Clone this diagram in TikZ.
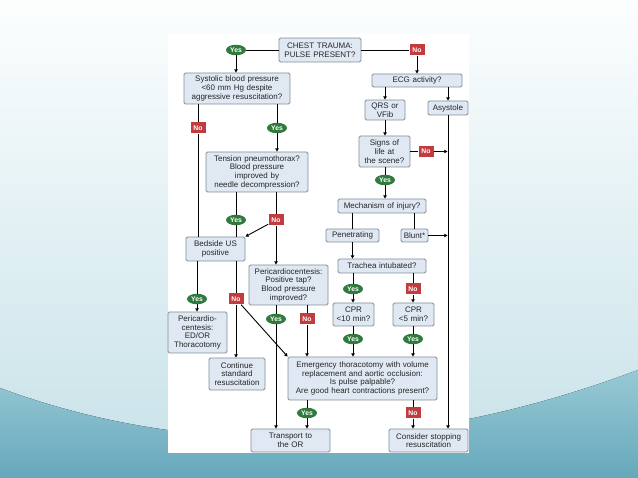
\documentclass[tikz,border=0pt]{standalone}
\usepackage{fontspec}
\setmainfont{Liberation Sans}
\usetikzlibrary{arrows.meta,shapes.geometric}
\definecolor{boxfill}{HTML}{DFE8F3}
\definecolor{boxline}{HTML}{848E97}
\definecolor{yesgreen}{HTML}{2F7A3C}
\definecolor{nored}{HTML}{C23B3E}
\definecolor{txt}{HTML}{262626}
\definecolor{bgtop}{HTML}{FCFEFE}
\definecolor{bgbot}{HTML}{C6E1E8}
\definecolor{wavetop}{HTML}{98C9D5}
\definecolor{wavebot}{HTML}{66A8BB}
\tikzset{
  box/.style={draw=boxline, fill=boxfill, rounded corners=1.5pt, line width=0.85pt,
    align=center, inner sep=0pt, text=txt,
    font=\fontsize{8}{8.7}\selectfont},
  yeslab/.style={ellipse, fill=yesgreen, text=white, inner sep=0pt,
    minimum width=20pt, minimum height=10.5pt, font=\fontsize{6.8}{7}\selectfont\bfseries},
  nolab/.style={rectangle, fill=nored, text=white, inner sep=0pt,
    minimum width=15pt, minimum height=11pt, font=\fontsize{6.8}{7}\selectfont\bfseries},
  conn/.style={line width=0.9pt, black},
  arr/.style={conn, -{Triangle[length=3.2pt,width=3.4pt]}}
}
\newcommand{\bx}[5]{\node[box, minimum width=#3pt, minimum height=#4pt, text width=#3pt] (#1) at (#2) {#5};}
\begin{document}
\begin{tikzpicture}[x=1pt,y=-1pt]
\useasboundingbox (0,0) rectangle (638,478);
% background
\fill[top color=bgtop, bottom color=bgbot] (0,0) rectangle (638,478);
\fill[top color=wavetop, bottom color=wavebot]
  (0,388) .. controls (200,462) and (420,452) .. (638,370) -- (638,478) -- (0,478) -- cycle;
% panel
\fill[white] (168,34) rectangle (469,453);

% boxes
\bx{chest}{320,50}{82}{24}{CHEST TRAUMA:\\PULSE PRESENT?}
\bx{sys}{237,88.5}{106}{31}{Systolic blood pressure\\<60 mm Hg despite\\aggressive resuscitation?}
\bx{ecg}{417,80.5}{90}{13}{ECG activity?}
\bx{qrs}{385,110}{40}{20}{QRS or\\VFib}
\bx{asys}{448,108}{40}{14}{Asystole}
\bx{tension}{257,172}{102}{40}{Tension pneumothorax?\\Blood pressure\\improved by\\needle decompression?}
\bx{signs}{384.5,151.5}{51}{31}{Signs of\\life at\\the scene?}
\bx{mech}{382,206}{88}{14}{Mechanism of injury?}
\bx{pen}{352.5,235.5}{53}{13}{Penetrating}
\bx{blunt}{414.5,235.5}{27}{13}{Blunt*}
\bx{bedside}{215.5,249}{59}{24}{Bedside US\\positive}
\bx{perictap}{288.5,285}{79}{40}{Pericardiocentesis:\\Positive tap?\\Blood pressure\\improved?}
\bx{trachea}{382,266}{88}{14}{Trachea intubated?}
\bx{cprten}{353.5,314.5}{41}{23}{CPR\\<10 min?}
\bx{cprfive}{413.5,314.5}{41}{23}{CPR\\<5 min?}
\bx{peritwo}{197.5,332.5}{59}{41}{Pericardio-\\centesis:\\ED/OR\\Thoracotomy}
\bx{cont}{237,374}{56}{32}{Continue\\standard\\resuscitation}
\bx{emerg}{362.5,378.5}{149}{43}{Emergency thoracotomy with volume\\replacement and aortic occlusion:\\Is pulse palpable?\\Are good heart contractions present?}
\bx{transport}{290.5,440.5}{79}{23}{Transport to\\the OR}
\bx{consider}{428.5,440.5}{79}{23}{Consider stopping\\resuscitation}

% labels
\node[yeslab] (yone) at (236,50) {Yes};
\node[nolab] (none) at (417,50) {No};
\node[nolab] (ntwo) at (198,128) {No};
\node[yeslab] (ytwo) at (277,128) {Yes};
\node[yeslab] (ythree) at (236,220) {Yes};
\node[nolab] (nthree) at (276,220) {No};
\node[nolab] (nsigns) at (426,151.5) {No};
\node[yeslab] (ysigns) at (385,180) {Yes};
\node[yeslab] (ybed) at (197,299) {Yes};
\node[nolab] (nbed) at (236,299) {No};
\node[yeslab] (ypt) at (276,319) {Yes};
\node[nolab] (npt) at (307,319) {No};
\node[yeslab] (ytr) at (353,289) {Yes};
\node[nolab] (ntr) at (413,289) {No};
\node[yeslab] (ycprone) at (353,339) {Yes};
\node[yeslab] (ycprtwo) at (413,339) {Yes};
\node[yeslab] (yem) at (307,413) {Yes};
\node[nolab] (nem) at (413,413) {No};

\coordinate (vsigns) at (447.5,151.5);
\coordinate (vblunt) at (447.5,235.5);

% connectors
\draw[conn] (chest.west) -- (yone);
\draw[arr] (yone) -- (yone |- sys.north);
\draw[conn] (chest.east) -- (none);
\draw[arr] (none) -- (none |- ecg.north);
\draw[arr] (ecg.south -| qrs) -- (qrs.north);
\draw[arr] (ecg.south -| asys) -- (asys.north);
\draw[arr] (qrs.south) -- (signs.north -| qrs);
\draw[conn] (signs.east) -- (nsigns);
\draw[arr] (nsigns) -- (vsigns);
\draw[conn] (signs.south -| ysigns) -- (ysigns);
\draw[arr] (ysigns) -- (ysigns |- mech.north);
\draw[conn] (mech.south -| pen) -- (pen.north);
\draw[conn] (mech.south -| blunt) -- (blunt.north);
\draw[arr] (blunt.east) -- (vblunt);
\draw[arr] (pen.south) -- (pen.south |- trachea.north);
\draw[conn] (trachea.south -| ytr) -- (ytr);
\draw[arr] (ytr) -- (ytr |- cprten.north);
\draw[conn] (trachea.south -| ntr) -- (ntr);
\draw[arr] (ntr) -- (ntr |- cprfive.north);
\draw[conn] (cprten.south -| ycprone) -- (ycprone);
\draw[arr] (ycprone) -- (ycprone |- emerg.north);
\draw[conn] (cprfive.south -| ycprtwo) -- (ycprtwo);
\draw[arr] (ycprtwo) -- (ycprtwo |- emerg.north);
\draw[arr] (asys.south) -- (consider.north -| asys);
\draw[conn] (sys.south -| ntwo) -- (ntwo) -- (ntwo |- bedside.north);
\draw[conn] (sys.south -| ytwo) -- (ytwo);
\draw[arr] (ytwo) -- (ytwo |- tension.north);
\draw[conn] (tension.south -| ythree) -- (ythree) -- (ythree |- bedside.north);
\draw[conn] (tension.south -| nthree) -- (nthree);
\draw[arr] (nthree) -- (nthree |- perictap.north);
\draw[arr] (nthree) -- (bedside.north east);
\draw[conn] (bedside.south -| ybed) -- (ybed);
\draw[arr] (ybed) -- (ybed |- peritwo.north);
\draw[conn] (bedside.south -| nbed) -- (nbed);
\draw[arr] (nbed) -- (nbed |- cont.north);
\draw[arr] (nbed) -- (emerg.north west);
\draw[conn] (perictap.south -| ypt) -- (ypt);
\draw[arr] (ypt) -- (ypt |- transport.north);
\draw[conn] (perictap.south -| npt) -- (npt);
\draw[arr] (npt) -- (npt |- emerg.north);
\draw[conn] (emerg.south -| yem) -- (yem);
\draw[arr] (yem) -- (yem |- transport.north);
\draw[conn] (emerg.south -| nem) -- (nem);
\draw[arr] (nem) -- (nem |- consider.north);
\end{tikzpicture}
\end{document}
